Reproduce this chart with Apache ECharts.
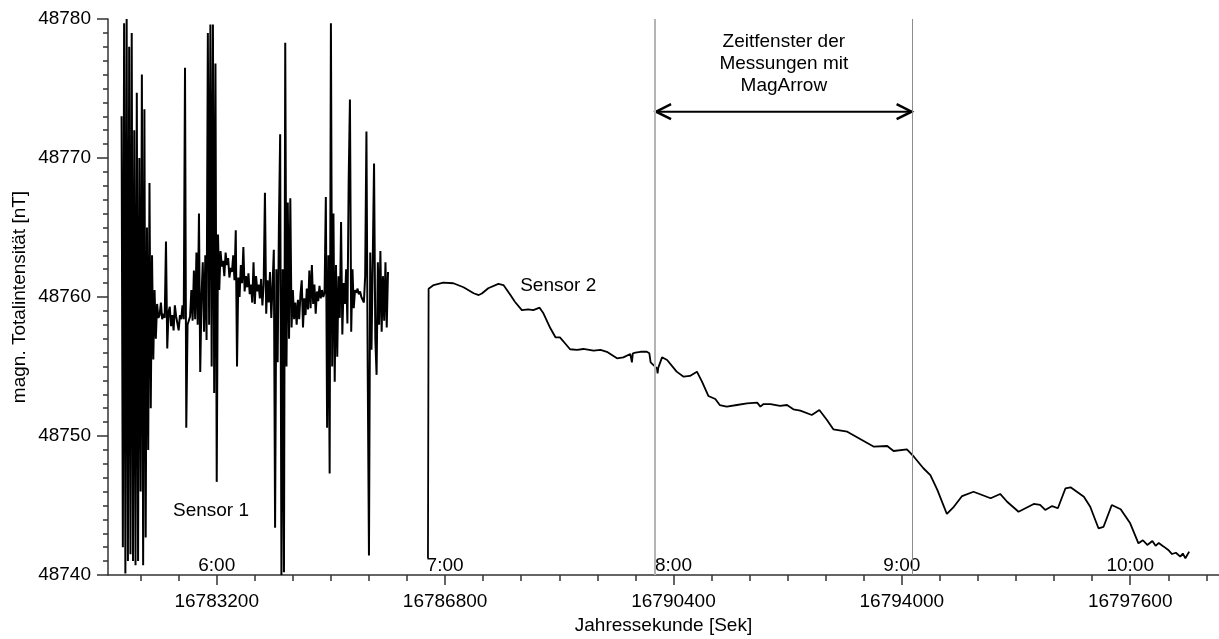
<!DOCTYPE html>
<html>
<head>
<meta charset="utf-8">
<script src="https://cdn.jsdelivr.net/npm/echarts@6/dist/echarts.min.js"></script>
<style>
  html, body { margin: 0; padding: 0; background: #fff; }
  #chart { width: 1219px; height: 639px; }
</style>
</head>
<body>
<div id="chart"></div>
<script>
// Achsen
var xMin = 16781486, xMax = 16799000;
var yMin = 48740, yMax = 48780;
var majorTicks = [16783200, 16786800, 16790400, 16794000, 16797600];

// Sensor 1: Messwerte alle 20 s ab 16781700
var s1Start = 16781700, s1Step = 20;
var s1Val = [
  48773.0, 48742.0, 48779.7, 48740.1, 48780.0, 48741.0, 48778.0, 48741.5, 48779.0, 48741.0,
  48772.0, 48740.7, 48774.7, 48741.0, 48770.0, 48746.0, 48776.0, 48740.7, 48773.5, 48742.7,
  48765.0, 48749.0, 48768.2, 48752.0, 48763.0, 48755.5, 48760.5, 48757.0, 48759.5, 48758.5,
  48758.7, 48759.6, 48758.4, 48758.8, 48758.5, 48764.0, 48756.3, 48758.9, 48759.3, 48757.9,
  48758.7, 48757.6, 48759.4, 48758.6, 48758.5, 48757.6, 48758.7, 48758.4, 48759.4, 48758.4,
  48776.5, 48750.6, 48758.0, 48757.9, 48758.6, 48760.5, 48758.3, 48761.9, 48758.4, 48763.2,
  48758.0, 48766.0, 48754.6, 48760.0, 48762.5, 48757.5, 48763.0, 48756.9, 48779.0, 48758.0,
  48779.6, 48755.0, 48779.6, 48753.1, 48776.8, 48746.7, 48764.5, 48760.5, 48763.3, 48762.2,
  48762.6, 48761.5, 48763.2, 48762.3, 48762.8, 48761.4, 48762.1, 48761.8, 48763.0, 48761.2,
  48764.8, 48755.0, 48761.4, 48760.0, 48762.3, 48761.0, 48763.6, 48760.4, 48761.5, 48760.7,
  48761.7, 48760.2, 48760.9, 48759.6, 48762.5, 48759.5, 48761.5, 48760.4, 48760.9, 48759.9,
  48761.3, 48759.4, 48760.9, 48767.5, 48758.8, 48761.2, 48759.6, 48761.8, 48758.5, 48760.8,
  48763.4, 48743.4, 48762.0, 48755.3, 48765.0, 48771.7, 48740.0, 48762.0, 48740.2, 48778.3,
  48755.0, 48766.8, 48757.0, 48767.1, 48757.8, 48760.5, 48758.4, 48759.6, 48758.0, 48759.8,
  48758.4, 48760.2, 48761.2, 48757.8, 48759.9, 48758.7, 48760.6, 48759.1, 48761.9, 48759.2,
  48762.3, 48759.5, 48760.9, 48758.8, 48760.4, 48759.7, 48760.8, 48759.9, 48760.5, 48760.0,
  48760.3, 48767.2, 48750.6, 48763.0, 48747.3, 48779.7, 48755.0, 48766.0, 48753.9, 48762.3,
  48755.7, 48761.5, 48758.5, 48765.4, 48757.3, 48761.0, 48759.5, 48762.0, 48758.1, 48768.4,
  48774.2, 48757.5, 48762.0, 48759.2, 48760.5, 48760.3, 48760.6, 48760.2, 48760.4, 48760.0,
  48759.8, 48759.6, 48761.5, 48771.9, 48755.0, 48741.4, 48763.2, 48756.2, 48762.8, 48769.6,
  48757.0, 48754.4, 48762.5, 48758.0, 48763.3, 48757.5, 48761.5, 48758.3, 48762.5, 48757.8, 48761.8
];

// Sensor 2
var s2Sec = [
  16786530, 16786540, 16786620, 16786770, 16786930, 16787090, 16787250, 16787330, 16787380, 16787480,
  16787640, 16787720, 16787830, 16787900, 16788010, 16788110, 16788190, 16788290, 16788350, 16788460,
  16788540, 16788610, 16788690, 16788770, 16788880, 16788980, 16789140, 16789250, 16789350, 16789510,
  16789610, 16789720, 16789745, 16789760, 16789800, 16789880, 16789980, 16790020, 16790040, 16790140,
  16790150, 16790160, 16790220, 16790300, 16790450, 16790560, 16790660, 16790770, 16790850, 16790950,
  16791060, 16791130, 16791240, 16791400, 16791560, 16791720, 16791770, 16791820, 16791930, 16792080,
  16792190, 16792290, 16792400, 16792580, 16792700, 16792820, 16792920, 16793140, 16793350, 16793560,
  16793770, 16793870, 16794080, 16794190, 16794340, 16794450, 16794560, 16794710, 16794820, 16794950,
  16795130, 16795400, 16795550, 16795660, 16795840, 16796080, 16796180, 16796260, 16796370, 16796460,
  16796580, 16796660, 16796870, 16796970, 16797100, 16797180, 16797310, 16797450, 16797600, 16797730,
  16797800, 16797870, 16797950, 16798000, 16798050, 16798130, 16798200, 16798260, 16798320, 16798390,
  16798430, 16798470, 16798530
];
var s2Val = [
  48741.2, 48760.6, 48760.86, 48761.03, 48760.99, 48760.70, 48760.27, 48760.14, 48760.25, 48760.63,
  48760.94, 48760.86, 48760.14, 48759.66, 48759.06, 48759.11, 48759.06, 48759.23, 48758.83, 48757.75,
  48757.10, 48757.10, 48756.67, 48756.24, 48756.19, 48756.26, 48756.14, 48756.19, 48756.06, 48755.59,
  48755.66, 48755.90, 48755.30, 48755.95, 48755.99, 48756.06, 48756.06, 48755.95, 48755.30, 48754.87,
  48754.50, 48754.90, 48755.66, 48755.47, 48754.63, 48754.27, 48754.32, 48754.63, 48753.91, 48752.88,
  48752.66, 48752.23, 48752.11, 48752.23, 48752.35, 48752.40, 48752.11, 48752.30, 48752.30, 48752.16,
  48752.23, 48751.92, 48751.82, 48751.51, 48751.87, 48751.15, 48750.48, 48750.31, 48749.76, 48749.23,
  48749.28, 48748.92, 48749.04, 48748.51, 48747.68, 48747.19, 48746.12, 48744.39, 48744.91, 48745.68,
  48745.99, 48745.52, 48745.83, 48745.27, 48744.55, 48745.11, 48745.04, 48744.68, 48744.96, 48744.80,
  48746.24, 48746.31, 48745.63, 48744.91, 48743.36, 48743.47, 48745.04, 48744.73, 48743.72, 48742.28,
  48742.50, 48742.16, 48742.45, 48742.10, 48742.30, 48742.04, 48741.80, 48741.51, 48741.60, 48741.32,
  48741.55, 48741.20, 48741.68
];

// Zeitfenster MagArrow
var windowSec = [16790110, 16794170];
var arrowVal = 48773.33;

// Beschriftungen im Diagramm [Sek, nT, Text]
var notes = [
  [16783110, 48744.6, 'Sensor 1'],
  [16788583, 48760.8, 'Sensor 2'],
  [16792140, 48776.8, 'Zeitfenster der\nMessungen mit\nMagArrow']
];

var fontFam = '"Liberation Sans", Arial, sans-serif';

var s1Data = s1Val.map(function (v, i) { return [s1Start + i * s1Step, v]; });
var s2Data = s2Val.map(function (v, i) { return [s2Sec[i], v]; });

var minorTicks = [];
for (var t = 16782000; t < xMax; t += 600) {
  if (majorTicks.indexOf(t) < 0) minorTicks.push(t);
}

function plain(v) { return String(Math.round(v)); }

var chart = echarts.init(document.getElementById('chart'));
var option = {
  animation: false,
  backgroundColor: '#fff',
  grid: { left: 108, right: 0, top: 19, bottom: 64, containLabel: false, outerBoundsMode: 'none' },
  xAxis: [{
    type: 'value',
    min: xMin,
    max: xMax,
    name: 'Jahressekunde [Sek]',
    nameLocation: 'middle',
    nameGap: 40,
    nameTextStyle: { fontSize: 19, fontFamily: fontFam, color: '#000' },
    axisLine: { lineStyle: { color: '#333', width: 1.5 } },
    axisTick: { customValues: majorTicks, length: 10, lineStyle: { color: '#333', width: 1.5 } },
    axisLabel: { customValues: majorTicks, margin: 17, fontSize: 19, fontFamily: fontFam, color: '#000', formatter: plain },
    splitLine: { show: false }
  }, {
    type: 'value',
    min: xMin,
    max: xMax,
    position: 'bottom',
    axisLine: { show: false },
    axisTick: { customValues: minorTicks, length: 6, lineStyle: { color: '#333', width: 1.5 } },
    axisLabel: {
      customValues: majorTicks,
      inside: true,
      margin: 0,
      fontSize: 19,
      fontFamily: fontFam,
      color: '#000',
      formatter: function (v) { return Math.round(v / 3600) % 24 + ':00'; }
    },
    splitLine: { show: false }
  }],
  yAxis: {
    type: 'value',
    min: yMin,
    max: yMax,
    interval: 10,
    name: 'magn. Totalintensität [nT]',
    nameLocation: 'middle',
    nameGap: 79,
    nameMoveOverlap: false,
    nameTextStyle: { fontSize: 19, fontFamily: fontFam, color: '#000' },
    axisLine: { show: true, lineStyle: { color: '#333', width: 1.5 } },
    axisTick: { show: true, length: 11, lineStyle: { color: '#333', width: 1.5 } },
    minorTick: { show: true, splitNumber: 10, length: 5, lineStyle: { color: '#333', width: 1.5 } },
    axisLabel: { margin: 17, fontSize: 19, fontFamily: fontFam, color: '#000', formatter: plain },
    splitLine: { show: false }
  },
  series: [{
    name: 'Sensor 1',
    type: 'line',
    data: s1Data,
    showSymbol: false,
    lineStyle: { color: '#000', width: 2 }
  }, {
    name: 'Sensor 2',
    type: 'line',
    data: s2Data,
    showSymbol: false,
    lineStyle: { color: '#000', width: 1.8 },
    markLine: {
      silent: true,
      symbol: 'none',
      label: { show: false },
      data: [
        { xAxis: windowSec[0], lineStyle: { color: '#b4b4b4', width: 2, type: 'solid' } },
        { xAxis: windowSec[1], lineStyle: { color: '#8c8c8c', width: 1, type: 'solid' } }
      ]
    }
  }]
};
chart.setOption(option);

// Pfeil und Texte über die Achsen positionieren
var pL = chart.convertToPixel({ seriesIndex: 1 }, [windowSec[0], arrowVal]);
var pR = chart.convertToPixel({ seriesIndex: 1 }, [windowSec[1], arrowVal]);
var graphics = [
  { type: 'line', shape: { x1: pL[0], y1: pL[1], x2: pR[0], y2: pR[1] }, style: { stroke: '#000', lineWidth: 2 } },
  { type: 'polyline', shape: { points: [[pL[0] + 16, pL[1] - 7.5], [pL[0] + 1, pL[1]], [pL[0] + 16, pL[1] + 7.5]] }, style: { stroke: '#000', lineWidth: 2.5, fill: null } },
  { type: 'polyline', shape: { points: [[pR[0] - 16, pR[1] - 7.5], [pR[0] - 1, pR[1]], [pR[0] - 16, pR[1] + 7.5]] }, style: { stroke: '#000', lineWidth: 2.5, fill: null } }
];
notes.forEach(function (n) {
  var p = chart.convertToPixel({ seriesIndex: 1 }, [n[0], n[1]]);
  graphics.push({
    type: 'text',
    x: p[0],
    y: p[1],
    style: {
      text: n[2],
      font: '19px ' + fontFam,
      fill: '#000',
      align: 'center',
      verticalAlign: 'middle',
      lineHeight: 22
    }
  });
});
chart.setOption({ graphic: graphics });
</script>
</body>
</html>
